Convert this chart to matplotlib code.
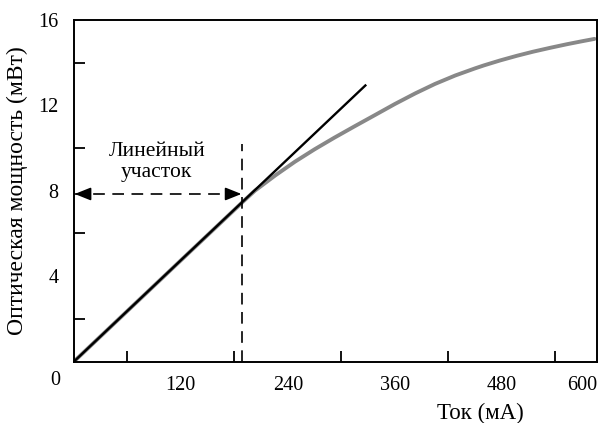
import numpy as np
import matplotlib.pyplot as plt

plt.rcParams['font.family'] = ['Liberation Serif', 'DejaVu Serif']

# Ватт-амперная характеристика
current = [0, 60, 120, 190, 203, 226, 248, 270, 292, 315, 338, 360, 383,
           405, 428, 450, 460, 478, 497, 515, 534, 553, 570, 584]
power = [0, 2.37, 4.74, 7.5, 8.0, 8.72, 9.36, 9.94, 10.48, 11.02, 11.55,
         12.06, 12.56, 13.0, 13.4, 13.73, 13.87, 14.1, 14.32, 14.51, 14.69,
         14.86, 15.0, 15.11]

# касательная (линейный участок)
tan_x = [0, 327]
tan_y = [0, 12.93]

i_lin = 189   # граница линейного участка, мА
p_lin = 7.85  # мВт

xtick_pos = [120, 240, 360, 480, 570]
xtick_lab = ['120', '240', '360', '480', '600']
ytick_pos = [4, 8, 12, 16]
ytick_lab = ['4', '8', '12', '16']

fig = plt.figure(figsize=(6.1, 4.23), dpi=100)
ax = fig.add_axes([0.121, 0.145, 0.858, 0.808])

ax.plot(current, power, color='#888888', lw=2.8, solid_capstyle='round')
ax.plot(tan_x, tan_y, color='black', lw=1.7)

# пунктирные линии
ax.plot([i_lin, i_lin], [0, 10.2], color='black', lw=1.2, dashes=(7, 4.5))
ax.plot([0, i_lin], [p_lin, p_lin], color='black', lw=1.2, dashes=(7, 4.5))
astyle = '-|>,head_length=0.7,head_width=0.28'
ax.annotate('', xy=(1, p_lin), xytext=(18, p_lin),
            arrowprops=dict(arrowstyle=astyle, lw=1.2, color='black',
                            mutation_scale=14, shrinkA=0, shrinkB=0))
ax.annotate('', xy=(i_lin - 1, p_lin), xytext=(i_lin - 18, p_lin),
            arrowprops=dict(arrowstyle=astyle, lw=1.2, color='black',
                            mutation_scale=14, shrinkA=0, shrinkB=0))

ax.text(93, 9.35, 'Линейный\nучасток', ha='center', va='center',
        fontsize=15.5, linespacing=1.2)

ax.set_xlim(0, 587)
ax.set_ylim(0, 16)

for s in ax.spines.values():
    s.set_linewidth(1.4)

ax.set_xticks(xtick_pos, labels=xtick_lab)
ax.set_yticks(ytick_pos, labels=ytick_lab)
ax.set_xticks(np.arange(60, 587, 60), minor=True)
ax.set_yticks(np.arange(2, 16, 2), minor=True)
ax.tick_params(axis='both', which='major', length=0, labelsize=14.5)
ax.tick_params(axis='x', which='major', pad=10)
ax.tick_params(axis='y', which='major', pad=11)
ax.tick_params(axis='both', which='minor', length=8, width=1.3,
               direction='in')

fig.text(55 / 610, 1 - 380 / 423, '0', ha='center', va='center',
         fontsize=14.5)
fig.text(17 / 610, 1 - 191 / 423, 'Оптическая мощность (мВт)', rotation=90,
         ha='center', va='center', fontsize=17)
fig.text(480 / 610, 1 - 413 / 423, 'Ток (мА)', ha='center', va='center',
         fontsize=16.5)

fig.savefig('out.png', dpi=100)
